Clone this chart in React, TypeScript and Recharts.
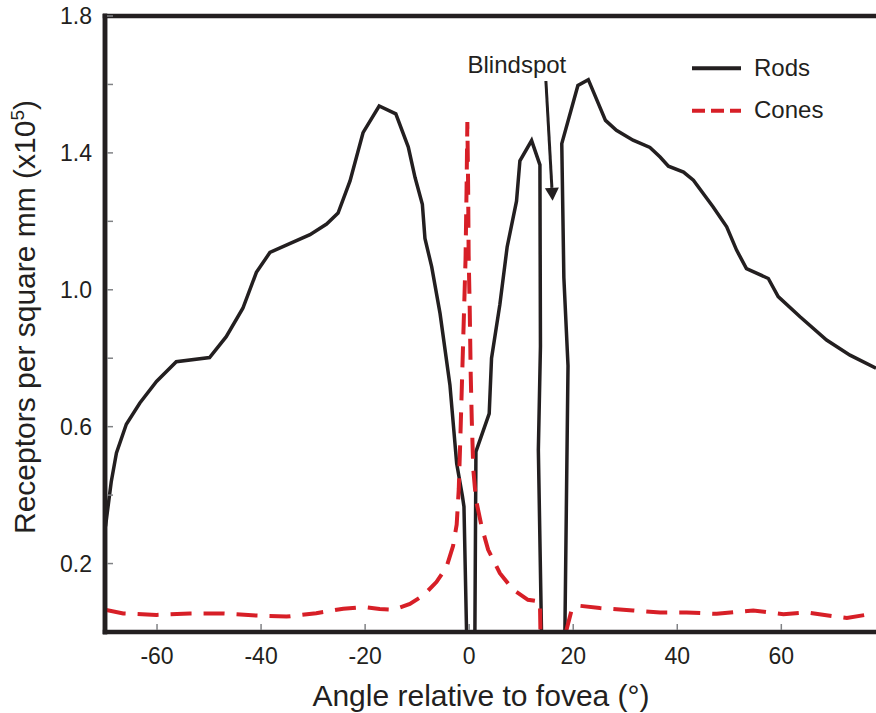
import { LineChart, Line, XAxis, YAxis, ReferenceLine, Legend } from 'recharts'

const INK = '#231f20'
const RED = '#d71f27'
const TICK = '#808285'
const FONT = '"Liberation Sans", Arial, Helvetica, sans-serif'

// rod density, degrees from the fovea (the blindspot walls go back and forth a little)
const rodAngles = [
  -69.9, -68.8, -67.8, -65.9, -63.3, -60.1, -56.3, -49.9, -46.7, -43.5, -40.9, -38.3, -34.5,
  -30.6, -27.4, -25.2, -22.9, -20.4, -17.3, -14.1, -11.7, -10.4, -9.0, -8.5, -7.2, -5.6, -3.7,
  -2.4, -1.3, -1.0, -0.5, 1.1, 1.3, 3.85, 4.3, 5.9, 7.3, 9.1, 9.75, 12.0, 13.6, 13.7, 13.3,
  13.9, 18.4, 19.0, 18.2, 17.8, 20.9, 22.9, 26.2, 28.3, 31.5, 34.75, 36.7, 38.3, 41.2, 43.1,
  46.9, 49.5, 51.4, 53.3, 57.5, 59.4, 63.6, 68.7, 73.2, 78.2,
]
const rodDensity = [
  0.309, 0.439, 0.523, 0.607, 0.669, 0.732, 0.79, 0.802, 0.863, 0.946, 1.051, 1.109, 1.135,
  1.161, 1.192, 1.224, 1.318, 1.459, 1.537, 1.514, 1.417, 1.328, 1.25, 1.15, 1.067, 0.931, 0.722,
  0.492, 0.397, 0.366, 0, 0, 0.527, 0.638, 0.8, 0.957, 1.125, 1.259, 1.377, 1.436, 1.365, 0.834,
  0.532, 0, 0, 0.778, 1.036, 1.427, 1.597, 1.614, 1.495, 1.466, 1.437, 1.416, 1.388, 1.361, 1.344,
  1.32, 1.242, 1.184, 1.116, 1.062, 1.033, 0.98, 0.921, 0.853, 0.809, 0.771,
]

// cone density; null breaks the line across the blindspot
const coneAngles = [
  -70, -66.5, -60.1, -53.7, -47.3, -40.9, -35.1, -29.4, -24.2, -20.4, -17.2, -14.6, -11.4, -8.8,
  -6.3, -4.4, -3.1, -2.4, -2.0, -1.7, -1.4, -1.0, -0.7, -0.5, -0.35, -0.2, -0.1, 0.1, 0.3, 0.5,
  0.8, 1.3, 2.4, 3.65, 5.9, 8.5, 11.3, 13.6, 13.7, 16, 18.6, 19.7, 21.0, 25.1, 31.5, 36.7, 41.8,
  47.6, 50.8, 54.6, 60.4, 64.9, 70.0, 72.6, 78.2,
]
const coneDensity = [
  0.065, 0.054, 0.05, 0.054, 0.054, 0.048, 0.045, 0.055, 0.068, 0.073, 0.067, 0.065, 0.082, 0.107,
  0.146, 0.188, 0.251, 0.314, 0.418, 0.565, 0.722, 0.931, 1.088, 1.297, 1.49, 1.3, 1.1, 0.95, 0.75,
  0.62, 0.474, 0.387, 0.308, 0.24, 0.172, 0.123, 0.094, 0.089, 0, null, 0, 0.065, 0.077, 0.07,
  0.063, 0.057, 0.057, 0.053, 0.058, 0.063, 0.052, 0.057, 0.046, 0.041, 0.055,
]

const xDomain = [-70, 78.2]
const yDomain = [0, 1.8]
const xTicks = [-60, -40, -20, 0, 20, 40, 60]
const yTicks = [0.2, 0.4, 0.6, 0.8, 1.0, 1.2, 1.4, 1.6, 1.8]
const yLabels = [0.2, 0.6, 1.0, 1.4, 1.8]
const seriesNames = ['Rods', 'Cones']

const rods = rodAngles.map((x, i) => ({ x, y: rodDensity[i] }))
const cones = coneAngles.map((x, i) => ({ x, y: coneDensity[i] }))

const legendDash: Record<string, string | undefined> = { Rods: undefined, Cones: '13 6' }

function BottomTick({ x, y, payload }: any) {
  return (
    <g>
      <line x1={x} x2={x} y1={y - 2} y2={y - 8} stroke={TICK} strokeWidth={1.5} />
      <text x={x} y={y + 32} textAnchor="middle" fontSize={23} fontFamily={FONT} fill={INK}>
        {payload.value}
      </text>
    </g>
  )
}

function TopTick({ x, y }: any) {
  return <line x1={x} x2={x} y1={y + 2} y2={y + 8} stroke={TICK} strokeWidth={1.5} />
}

function LeftTick({ x, y, payload }: any) {
  const labelled = yLabels.some(v => Math.abs(v - payload.value) < 1e-6)
  return (
    <g>
      <line x1={x + 2} x2={x + 8} y1={y} y2={y} stroke={TICK} strokeWidth={1.5} />
      {labelled && (
        <text x={x - 13} y={y + 8} textAnchor="end" fontSize={23} fontFamily={FONT} fill={INK}>
          {payload.value.toFixed(1)}
        </text>
      )}
    </g>
  )
}

function BlindspotArrow({ x1, y1, x2, y2 }: any) {
  const len = Math.hypot(x2 - x1, y2 - y1)
  const ux = (x2 - x1) / len
  const uy = (y2 - y1) / len
  const bx = x2 - ux * 13
  const by = y2 - uy * 13
  return (
    <g>
      <text x={x1 - 29} y={y1 - 8} textAnchor="middle" fontSize={24} fontFamily={FONT} fill={INK}>
        Blindspot
      </text>
      <line x1={x1} y1={y1} x2={bx} y2={by} stroke={INK} strokeWidth={3} />
      <polygon
        points={`${x2},${y2} ${bx - uy * 7},${by + ux * 7} ${bx + uy * 7},${by - ux * 7}`}
        fill={INK}
      />
    </g>
  )
}

const renderLegend = ({ payload }: any) => {
  const items = [...(payload || [])].sort(
    (a: any, b: any) => seriesNames.indexOf(a.value) - seriesNames.indexOf(b.value)
  )
  return (
    <svg width={160} height={90}>
      {items.map((entry: any, i: number) => (
        <g key={entry.value} transform={`translate(0, ${i * 42.4})`}>
          <line
            x1={2}
            x2={51}
            y1={23.3}
            y2={23.3}
            stroke={entry.color}
            strokeWidth={4}
            strokeDasharray={legendDash[entry.value]}
          />
          <text x={64} y={30.5} fontSize={24} fontFamily={FONT} fill={INK}>
            {entry.value}
          </text>
        </g>
      ))}
    </svg>
  )
}

const frame = { stroke: INK, strokeWidth: 4.5, strokeLinecap: 'square' as const }

export default function App() {
  return (
    <div style={{ position: 'absolute', left: 0, top: 0, background: '#fff' }}>
      <LineChart width={876} height={713} margin={{ top: 16, right: 0, bottom: 0, left: 0 }}>
        <XAxis
          dataKey="x"
          type="number"
          domain={xDomain}
          allowDataOverflow
          ticks={xTicks}
          interval={0}
          height={81}
          tickSize={0}
          tickMargin={0}
          tickLine={false}
          tick={BottomTick}
          axisLine={frame}
          label={() => (
            <text x={481} y={706} textAnchor="middle" fontSize={30} fontFamily={FONT} fill={INK}>
              Angle relative to fovea (°)
            </text>
          )}
        />
        <XAxis
          xAxisId="top"
          orientation="top"
          type="number"
          domain={xDomain}
          allowDataOverflow
          ticks={xTicks}
          interval={0}
          height={0}
          tickSize={0}
          tickMargin={0}
          tickLine={false}
          tick={TopTick}
          axisLine={frame}
        />
        <YAxis
          type="number"
          domain={yDomain}
          allowDataOverflow
          ticks={yTicks}
          interval={0}
          width={105}
          tickSize={0}
          tickMargin={0}
          tickLine={false}
          tick={LeftTick}
          axisLine={frame}
          label={() => (
            <text
              x={35}
              y={317}
              transform="rotate(-90 35 317)"
              textAnchor="middle"
              fontSize={30}
              fontFamily={FONT}
              fill={INK}
            >
              Receptors per square mm (x10
              <tspan dy={-11} fontSize={19}>5</tspan>
              <tspan dy={11}>)</tspan>
            </text>
          )}
        />
        <Legend
          content={renderLegend}
          layout="horizontal"
          verticalAlign="middle"
          align="center"
          wrapperStyle={{ left: 690, top: 45, width: 160, height: 90 }}
        />
        {/* heavy frame on the left and top edges */}
        <ReferenceLine x={xDomain[0]} {...frame} ifOverflow="visible" />
        <ReferenceLine y={yDomain[1]} {...frame} ifOverflow="visible" />
        <Line
          data={rods}
          dataKey="y"
          name="Rods"
          type="linear"
          stroke={INK}
          strokeWidth={3.5}
          dot={false}
          activeDot={false}
          isAnimationActive={false}
        />
        <Line
          data={cones}
          dataKey="y"
          name="Cones"
          type="linear"
          stroke={RED}
          strokeWidth={4}
          strokeDasharray="21 12"
          dot={false}
          activeDot={false}
          isAnimationActive={false}
        />
        <ReferenceLine
          segment={[
            { x: 14.75, y: 1.61 },
            { x: 16.04, y: 1.26 },
          ]}
          shape={BlindspotArrow}
        />
      </LineChart>
    </div>
  )
}
